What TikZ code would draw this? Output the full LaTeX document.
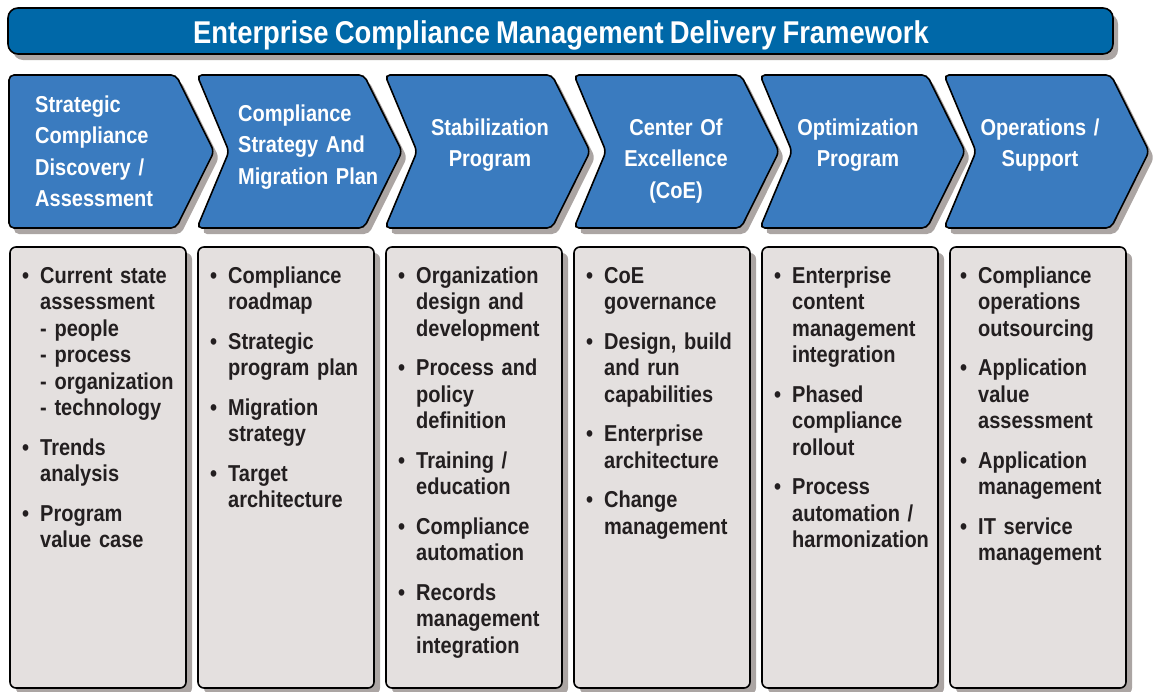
\documentclass[tikz,border=0pt]{standalone}
\usepackage{fontspec}
\setmainfont{Liberation Sans}[FakeStretch=0.87, WordSpace=0.8]
\definecolor{titleblue}{HTML}{0068A8}
\definecolor{chevblue}{HTML}{3A7BBF}
\definecolor{boxgray}{HTML}{E4E0DF}
\definecolor{shadegray}{HTML}{ABA5A3}
\definecolor{inkdark}{HTML}{231F20}
\newcommand{\bitem}[1]{\hangindent=18pt\hangafter=1\noindent\makebox[18pt][l]{\textbullet}#1\par\vspace{13pt}}
\tikzset{
  chev/.style={draw=black, line width=1.6pt, fill=chevblue, rounded corners=5pt},
  panel/.style={draw=black, line width=1.6pt, fill=boxgray, rounded corners=6pt},
  shade/.style={fill=shadegray},
  head/.style={text=white, font=\bfseries\fontsize{23}{31.5}\selectfont, inner sep=0pt, text width=200pt},
  body/.style={text=inkdark, font=\bfseries\fontsize{23}{26.5}\selectfont, inner sep=0pt, text width=175pt, align=left, anchor=base west}
}
\begin{document}
\begin{tikzpicture}[x=1pt, y=-1pt]
  \useasboundingbox (0,0) rectangle (1156,691);
  \fill[shade, rounded corners=10pt] (13,14) rectangle (1118,60);
  \draw[line width=1.6pt, fill=titleblue, rounded corners=10pt] (8,8) rectangle (1113,54);
  \node[font=\bfseries\fontsize{31.5}{36}\selectfont, text=white, anchor=base, inner sep=0pt] (title) at (561,43)
    {Enterprise Compliance Management Delivery Framework};

  \foreach \l/\k in {9/0,197/32,385/32,574/32,760/32,944/32}
    \fill[shade, rounded corners=5pt, shift={(5,6)}] (\l,75) -- (\l+167,75) -- (\l+205,151.5)
      -- (\l+167,228) -- (\l,228) -- (\l+\k,151.5) -- cycle;
  \foreach \l/\k in {9/0,197/32,385/32,574/32,760/32,944/32}
    \draw[chev] (\l,75) -- (\l+167,75) -- (\l+205,151.5)
      -- (\l+167,228) -- (\l,228) -- (\l+\k,151.5) -- cycle;

  \foreach \x in {10,198,386,574,762,950}
    {\fill[shade, rounded corners=6pt] (\x+6,253) rectangle (\x+182,694);
     \draw[panel] (\x,247) rectangle (\x+176,688);}

  \node[head, align=left, anchor=base west] (h1) at (35,112) {Strategic\\Compliance\\Discovery /\\Assessment};
  \node[head, align=left, anchor=base west] (h2) at (238,121) {Compliance\\Strategy And\\Migration Plan};
  \node[head, align=center, anchor=base] (h3) at (490,135) {Stabilization\\Program};
  \node[head, align=center, anchor=base] (h4) at (676,135) {Center Of\\Excellence\\(CoE)};
  \node[head, align=center, anchor=base] (h5) at (858,135) {Optimization\\Program};
  \node[head, align=center, anchor=base] (h6) at (1040,135) {Operations /\\Support};

  \node[body] (b1) at (22,283) {\bitem{Current state\newline assessment\newline - people\newline - process\newline - organization\newline - technology}
    \bitem{Trends\newline analysis}\bitem{Program\newline value case}};
  \node[body] (b2) at (210,283) {\bitem{Compliance\newline roadmap}\bitem{Strategic\newline program plan}
    \bitem{Migration\newline strategy}\bitem{Target\newline architecture}};
  \node[body] (b3) at (398,283) {\bitem{Organization\newline design and\newline development}\bitem{Process and\newline policy\newline definition}
    \bitem{Training /\newline education}\bitem{Compliance\newline automation}\bitem{Records\newline management\newline integration}};
  \node[body] (b4) at (586,283) {\bitem{CoE\newline governance}\bitem{Design, build\newline and run\newline capabilities}
    \bitem{Enterprise\newline architecture}\bitem{Change\newline management}};
  \node[body] (b5) at (774,283) {\bitem{Enterprise\newline content\newline management\newline integration}
    \bitem{Phased\newline compliance\newline rollout}\bitem{Process\newline automation /\newline harmonization}};
  \node[body] (b6) at (960,283) {\bitem{Compliance\newline operations\newline outsourcing}\bitem{Application\newline value\newline assessment}
    \bitem{Application\newline management}\bitem{IT service\newline management}};
\end{tikzpicture}
\end{document}
